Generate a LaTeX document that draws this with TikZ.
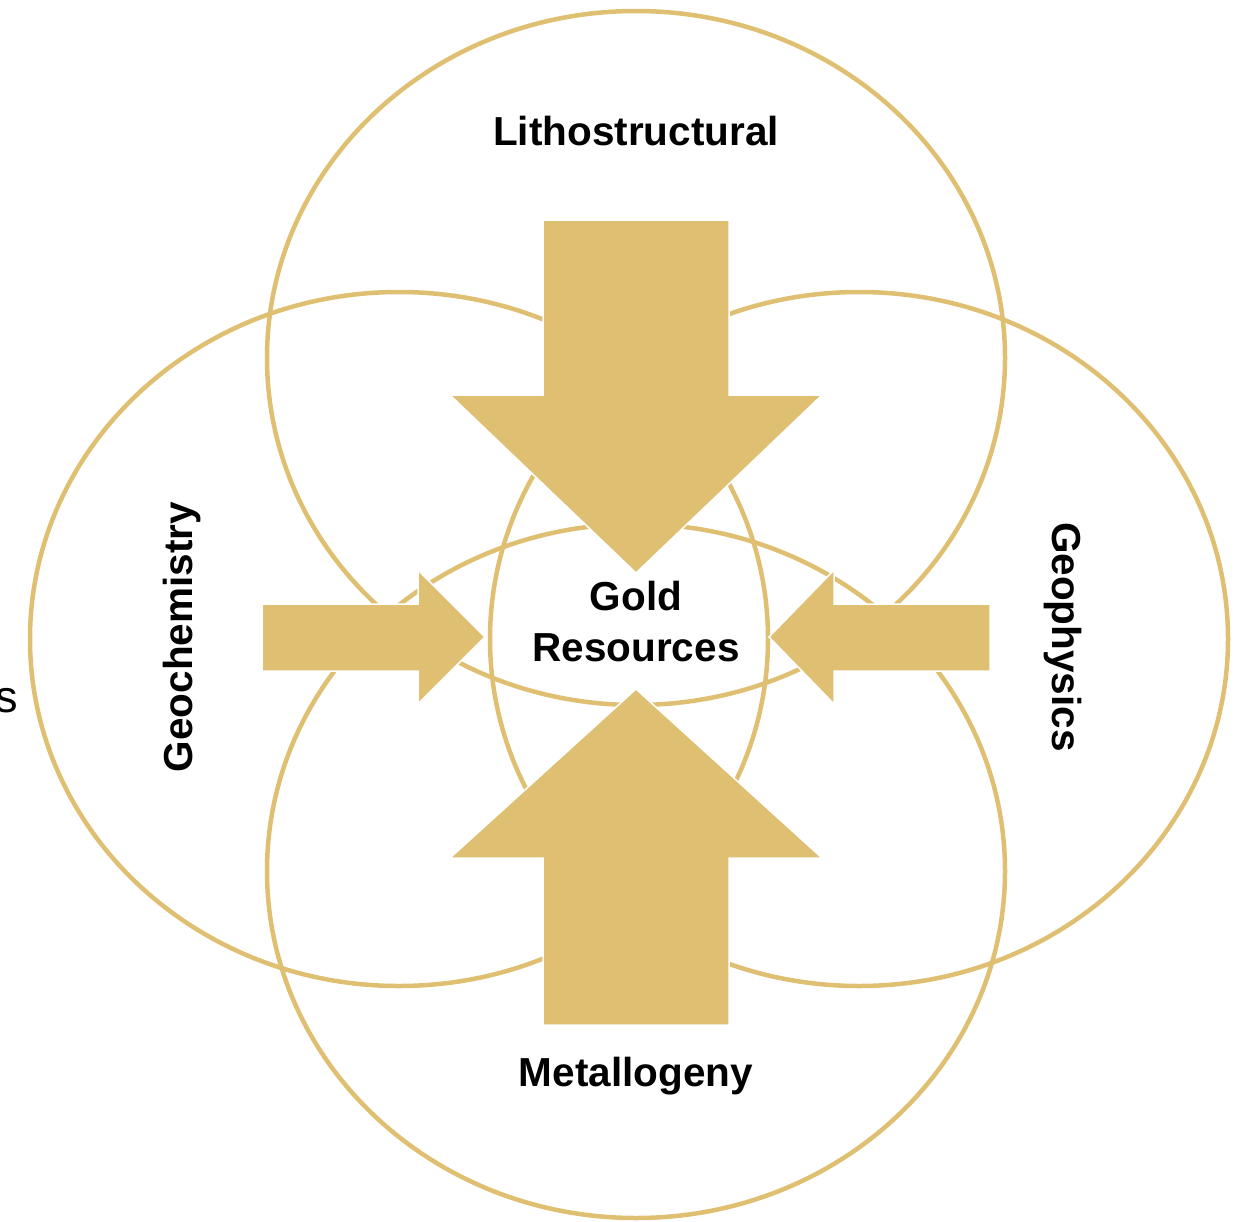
\documentclass[tikz,border=0pt]{standalone}
\usepackage{fontspec}
\setmainfont{Liberation Sans}
\usetikzlibrary{positioning}
\definecolor{gold}{RGB}{223,191,114}
\tikzset{
  ring/.style={draw=gold,line width=4.5pt},
  bigarrow/.style={fill=gold,draw=white,line width=1.5pt},
  tag/.style={font=\fontsize{40.5}{51}\selectfont\bfseries,inner sep=0pt,anchor=base}
}

\begin{document}
\begin{tikzpicture}[x=1pt,y=-1pt]
  \useasboundingbox (0,0) rectangle (1242,1221);
  % the four fields
  \draw[ring] (636,358) ellipse [x radius=369,y radius=347];
  \draw[ring] (636,871) ellipse [x radius=369,y radius=347];
  \draw[ring] (399,639) ellipse [x radius=369,y radius=347];
  \draw[ring] (859,639) ellipse [x radius=369,y radius=347];
  % block arrows towards the centre
  \filldraw[bigarrow] (543,220)--(729,220)--(729,395)--(822,395)--(636,573)
    --(450,395)--(543,395)--cycle;
  \filldraw[bigarrow] (543,1025)--(729,1025)--(729,858)--(822,858)--(636,689)
    --(450,858)--(543,858)--cycle;
  \filldraw[bigarrow] (262,604)--(418,604)--(418,570)--(485,637)--(418,704)
    --(418,671)--(262,671)--cycle;
  \filldraw[bigarrow] (990,604)--(834,604)--(834,570)--(769,637)--(834,704)
    --(834,671)--(990,671)--cycle;
  % labels
  \node[tag] (litho) at (636,145) {Lithostructural};
  \node[tag] (metal) at (636,1086) {Metallogeny};
  \node[tag,rotate=90] (geochem) at (192,637) {Geochemistry};
  \node[tag,rotate=-90] (geophys) at (1052,637) {Geophysics};
  \node[tag,align=center,anchor=north] (gold) at (636,581) {Gold\\Resources};
  \node[font=\fontsize{45}{54}\selectfont,inner sep=0pt,anchor=base west]
    (cut) at (-5,712) {s};
\end{tikzpicture}
\end{document}
